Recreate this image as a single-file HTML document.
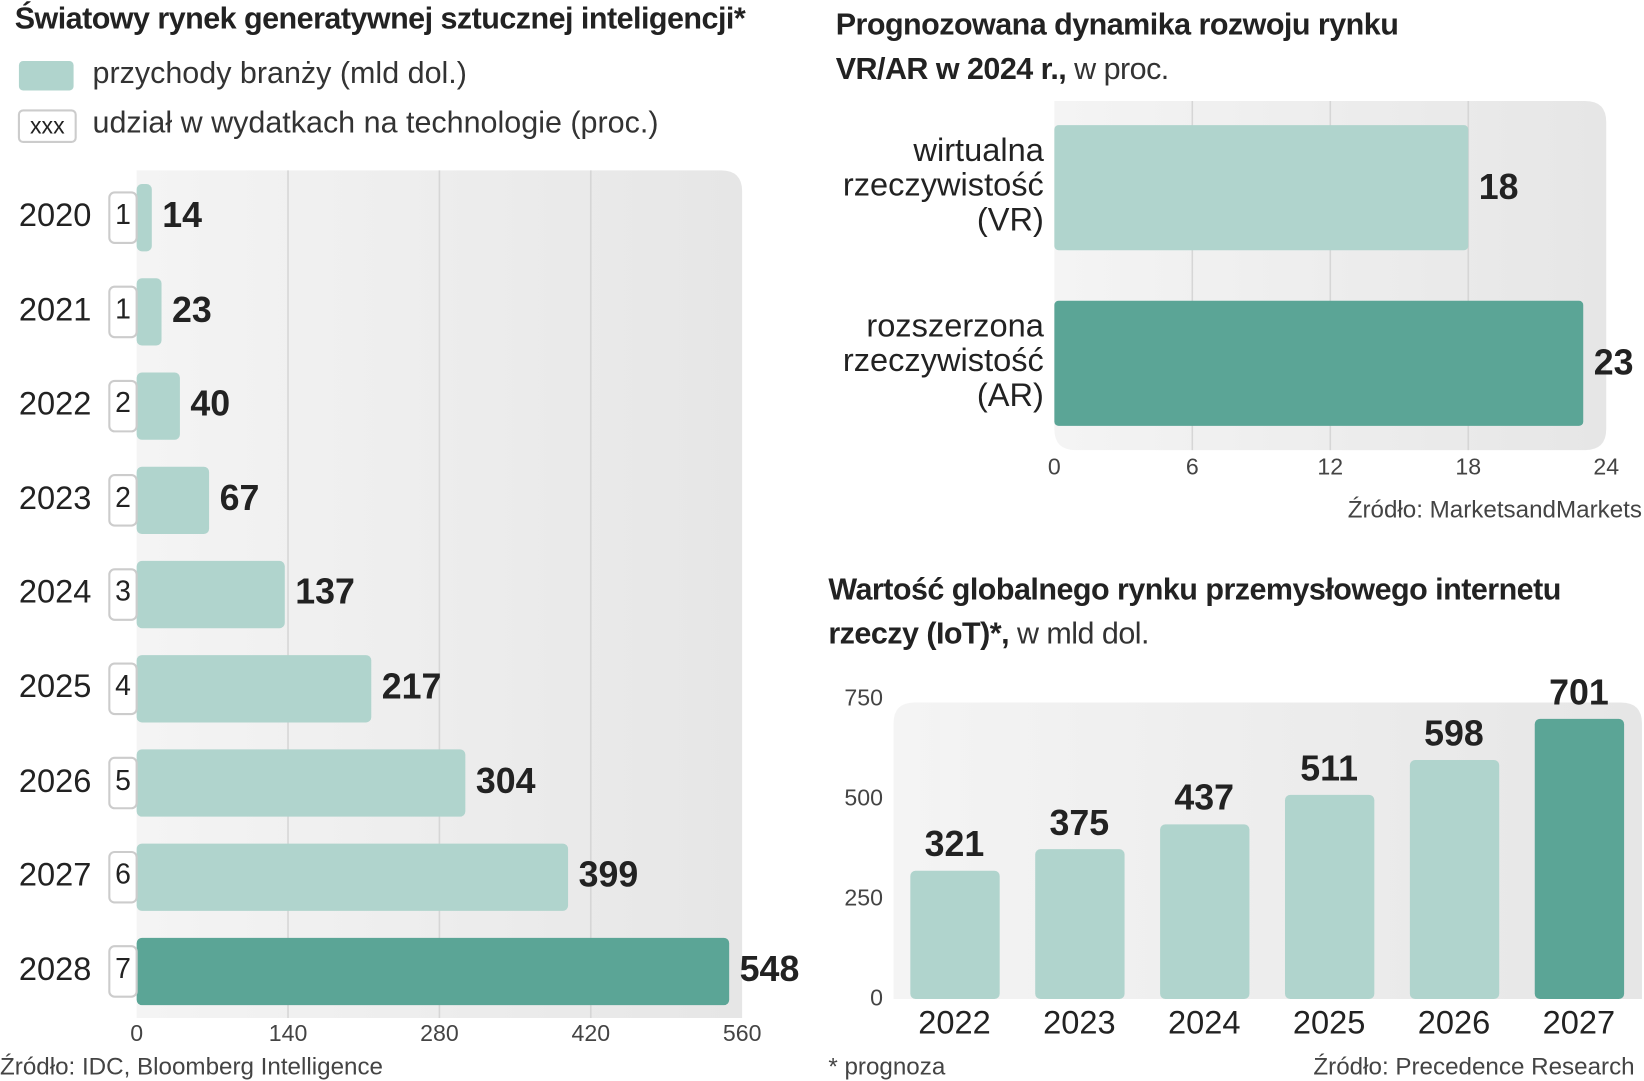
<!DOCTYPE html>
<html><head><meta charset="utf-8">
<style>
html,body{margin:0;padding:0;background:#fff;overflow:hidden}
#wrap{position:absolute;left:0;top:0;width:1564px;height:1027px;transform:scale(1.0512,1.0516);transform-origin:0 0;font-family:"Liberation Sans Narrow","Liberation Sans",sans-serif;color:#222}
.a{position:absolute;white-space:nowrap}
.t{font-weight:bold;font-size:29px;letter-spacing:-0.5px}
.l{font-size:29px;color:#333}
.v{font-weight:bold;font-size:34px;color:#222}
.tk{font-size:22px;color:#444}
.src{font-size:23px;color:#444}
</style></head><body>
<div id="wrap">
<svg id="svg" width="1564" height="1027" style="position:absolute;left:0;top:0"></svg>
<div class="a t" style="left:14px;top:2px">Światowy rynek generatywnej sztucznej inteligencji*</div>
<div class="a" style="left:18px;top:58px;width:52px;height:28px;background:#b0d4cd;border-radius:4px"></div>
<div class="a l" style="left:88px;top:54px">przychody branży (mld dol.)</div>
<div class="a" style="left:17px;top:104px;width:52px;height:28px;border:2px solid #ccc;border-radius:5px;font-size:22px;text-align:center;line-height:28px">xxx</div>
<div class="a l" style="left:88px;top:101px">udział w wydatkach na technologie (proc.)</div>
<div class="a src" style="left:0px;top:1001px">Źródło: IDC, Bloomberg Intelligence</div>

<div class="a t" style="left:795px;top:3px;line-height:42px">Prognozowana dynamika rozwoju rynku<br>VR/AR w 2024 r.,<span style="font-weight:normal;color:#333"> w proc.</span></div>
<div class="a src" style="right:2px;top:471px">Źródło: MarketsandMarkets</div>

<div class="a t" style="left:788px;top:540px;line-height:42px">Wartość globalnego rynku przemysłowego internetu<br>rzeczy (IoT)*,<span style="font-weight:normal;color:#333"> w mld dol.</span></div>
<div class="a src" style="left:788px;top:1001px">* prognoza</div>
<div class="a src" style="right:9px;top:1001px">Źródło: Precedence Research</div>
</div>
<script>
// Left chart data
const genYears=["2020","2021","2022","2023","2024","2025","2026","2027","2028"];
const genRevenue=[14,23,40,67,137,217,304,399,548];
const genShare=[1,1,2,2,3,4,5,6,7];
const genTicks=[0,140,280,420,560];
// VR/AR data
const vrCats=["wirtualna|rzeczywistość|(VR)","rozszerzona|rzeczywistość|(AR)"];
const vrValues=[18,23];
const vrTicks=[0,6,12,18,24];
// IoT data
const iotYears=["2022","2023","2024","2025","2026","2027"];
const iotValues=[321,375,437,511,598,701];
const iotTicks=[0,250,500,750];

const NS="http://www.w3.org/2000/svg";
const svg=document.getElementById('svg');
const wrap=document.getElementById('wrap');
function el(tag,attrs){const e=document.createElementNS(NS,tag);for(const k in attrs)e.setAttribute(k,attrs[k]);svg.appendChild(e);return e;}
function txt(x,y,s,cls,anchor){const e=document.createElement('div');e.className='a '+cls;e.textContent=s;e.style.top=y+'px';
 if(anchor==='r'){e.style.right=(1564-x)+'px';}else if(anchor==='c'){e.style.left=(x-100)+'px';e.style.width='200px';e.style.textAlign='center';}else e.style.left=x+'px';
 wrap.appendChild(e);return e;}
const LIGHT="#b0d4cd",DARK="#5ba596";
// gradient
const defs=el('defs',{});
defs.innerHTML='<linearGradient id="bg" x1="0" y1="0" x2="1" y2="0"><stop offset="0" stop-color="#f4f4f4"/><stop offset="1" stop-color="#e6e6e6"/></linearGradient>';

// ---- Left chart
const lx=v=>130+v*(576/560);
const ly=i=>175+i*89.6;
let p=el('path',{d:'M130 162 H686 Q706 162 706 182 V968 H130 Z',fill:'url(#bg)'});

genTicks.forEach((t,i)=>{
 if(i>0&&i<genTicks.length-1){const g=el('line',{x1:lx(t),x2:lx(t),y1:162,y2:968,stroke:'#d6d6d6','stroke-width':1.5});}
 const e=txt(lx(t),970,String(t),'tk','c');
});
genYears.forEach((y,i)=>{
 const last=i===genYears.length-1;
 const r=el('rect',{x:130,y:ly(i),width:lx(genRevenue[i])-130,height:64,rx:5,fill:last?DARK:LIGHT});
 
 const b=el('rect',{x:104,y:ly(i)+8,width:26,height:48,rx:5,fill:'#fff',stroke:'#ccc','stroke-width':2});
 
 const s=txt(117,ly(i)+14,String(genShare[i]),'tk','c');s.style.fontSize='27px';s.style.color='#222';
 
 const yl=txt(18,ly(i)+12,y,'l');yl.style.color='#222';yl.style.fontSize='31px';
 
 const v=txt(lx(genRevenue[i])+10,ly(i)+11,String(genRevenue[i]),'v');
 
});

// ---- VR chart
const vx=v=>1003+v*(525/24);
p=el('path',{d:'M1003 96 H1508 Q1528 96 1528 116 V408 Q1528 428 1508 428 H1023 Q1003 428 1003 408 Z',fill:'url(#bg)'});

vrTicks.forEach((t,i)=>{
 if(i>0&&i<vrTicks.length-1){const g=el('line',{x1:vx(t),x2:vx(t),y1:96,y2:428,stroke:'#d6d6d6','stroke-width':1.5});}
 const e=txt(vx(t),431,String(t),'tk','c');
});
vrCats.forEach((c,i)=>{
 const y=119+i*167;
 const r=el('rect',{x:1003,y:y,width:vx(vrValues[i])-1003,height:119,rx:4,fill:i===1?DARK:LIGHT});
 
 const l=txt(993,y+7,'','l','r');l.innerHTML=c.split('|').join('<br>');l.style.textAlign='right';l.style.lineHeight='33px';l.style.color='#222';l.style.fontSize='31px';
 
 const v=txt(vx(vrValues[i])+10,y+40,String(vrValues[i]),'v');
 
});

// ---- IoT chart
const iy=v=>950-v*(285/750);
const ix=i=>866+i*118.8;
p=el('path',{d:'M870 668 H1542 Q1562 668 1562 688 V950 H850 V688 Q850 668 870 668 Z',fill:'url(#bg)'});

iotTicks.forEach(t=>{
 const e=txt(840,iy(t)-14,String(t),'tk','r');
});
iotYears.forEach((y,i)=>{
 const last=i===iotYears.length-1;
 const r=el('rect',{x:ix(i),y:iy(iotValues[i]),width:85,height:950-iy(iotValues[i]),rx:5,fill:last?DARK:LIGHT});
 
 const v=txt(ix(i)+42,iy(iotValues[i])-44,String(iotValues[i]),'v','c');
 
 const yl=txt(ix(i)+42,955,y,'l','c');yl.style.color='#222';yl.style.fontSize='31px';
 
});
</script>
</body></html>
